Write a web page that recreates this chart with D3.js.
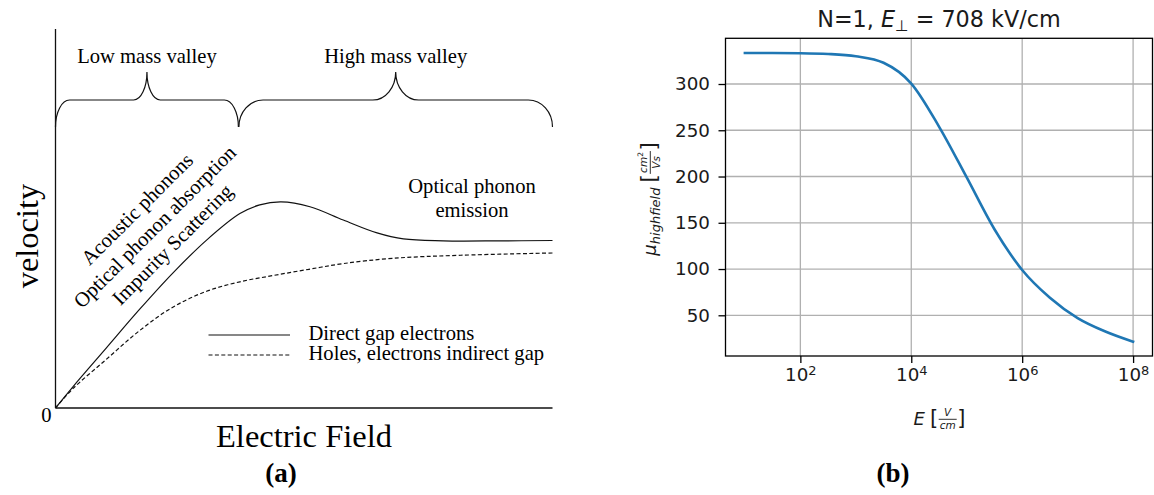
<!DOCTYPE html>
<html>
<head>
<meta charset="utf-8">
<script src="https://cdn.jsdelivr.net/npm/d3@7"></script>
<style>
  body { margin: 0; background: #fff; }
  svg { display: block; }
</style>
</head>
<body>
<svg id="chart" width="1154" height="495"></svg>
<script>
// ---------- Panel (a): schematic drift velocity vs. electric field (arbitrary units) ----------
const fieldDirect      = [0, 0.35, 1.02, 1.69, 2.36, 3.04, 3.71, 4.11, 4.54, 5.12, 5.79, 6.47, 7.0, 7.8, 8.95, 10];
const velocityDirect   = [0, 0.56, 1.58, 2.60, 3.56, 4.43, 5.13, 5.36, 5.44, 5.31, 4.96, 4.62, 4.46, 4.41, 4.41, 4.42];
const fieldIndirect    = [0, 0.35, 1.02, 1.69, 2.36, 3.04, 3.71, 4.4, 5.1, 5.79, 6.79, 8.15, 10];
const velocityIndirect = [0, 0.51, 1.28, 2.04, 2.66, 3.08, 3.33, 3.50, 3.66, 3.81, 3.95, 4.03, 4.09];

const valleyNames = ["Low mass valley", "High mass valley"];
const valleyStart = [0, 3.69];
const valleyEnd   = [3.68, 10];

const lowFieldMechanisms = ["Acoustic phonons", "Optical phonon absorption", "Impurity Scattering"];
const highFieldMechanism = ["Optical phonon", "emission"];
const legendNames = ["Direct gap electrons", "Holes, electrons indirect gap"];

// ---------- Panel (b): high-field mobility vs. field ----------
const fieldB   = [10, 31.6, 100, 316, 1000, 3162, 10000, 31623, 100000, 316228, 1000000, 3162278, 10000000, 31622777, 100000000];
const mobility = [333.5, 333.5, 333.3, 332.5, 330, 323, 300.5, 254, 199, 143, 99, 69, 47, 32.5, 21.5];
const yTicksB  = [50, 100, 150, 200, 250, 300];
const xTicksB  = [1e2, 1e4, 1e6, 1e8];
const titleB   = { pre: "N=1, ", sym: "E", sub: "⊥", post: " = 708 kV/cm" };

const svg = d3.select("#chart");
const serif = "'Liberation Serif', 'Times New Roman', serif";
const sans = "'DejaVu Sans', sans-serif";
const ink = "#1a1a1a";

// ================= Panel (a) =================
const xA = d3.scaleLinear().domain([0, 10]).range([55.5, 552.5]);
const yA = d3.scaleLinear().domain([0, 10]).range([408, 29]);
const gA = svg.append("g");

// axes
gA.append("line")
  .attr("x1", xA(0)).attr("x2", xA(0)).attr("y1", yA(0)).attr("y2", yA(10))
  .attr("stroke", "#111").attr("stroke-width", 1.3);
gA.append("line")
  .attr("x1", xA(0)).attr("x2", xA(10)).attr("y1", yA(0)).attr("y2", yA(0))
  .attr("stroke", "#111").attr("stroke-width", 1.3);

gA.append("text").attr("x", 46.5).attr("y", 421.5)
  .attr("text-anchor", "middle").attr("font-family", serif).attr("font-size", 20.6)
  .text("0");

gA.append("text").attr("x", 304).attr("y", 447)
  .attr("text-anchor", "middle").attr("font-family", serif).attr("font-size", 32.5)
  .text("Electric Field");

gA.append("text")
  .attr("transform", "translate(37.5,236) rotate(-90)")
  .attr("text-anchor", "middle").attr("font-family", serif).attr("font-size", 32.5)
  .text("velocity");

// curves
const lineA = d3.line().x(d => xA(d[0])).y(d => yA(d[1])).curve(d3.curveCatmullRom.alpha(0.5));
gA.append("path")
  .datum(d3.zip(fieldDirect, velocityDirect))
  .attr("d", lineA).attr("fill", "none").attr("stroke", "#111").attr("stroke-width", 1.2);
gA.append("path")
  .datum(d3.zip(fieldIndirect, velocityIndirect))
  .attr("d", lineA).attr("fill", "none").attr("stroke", "#111").attr("stroke-width", 1.2)
  .attr("stroke-dasharray", "4,2.4");

// curly braces marking the valleys
function bracePath(x0, x1, yEnd, yBar, yTip) {
  const span = x1 - x0, r = span * 0.077, rt = span * 0.073, tip = (x0 + x1) / 2;
  const k = 0.552, hEnd = yEnd - yBar, hTip = yBar - yTip;
  return `M${x0},${yEnd}` +
    `C${x0},${yEnd - k * hEnd} ${x0 + r * (1 - k)},${yBar} ${x0 + r},${yBar}` +
    `L${tip - rt},${yBar}` +
    `C${tip - rt * (1 - k)},${yBar} ${tip},${yTip + k * hTip} ${tip},${yTip}` +
    `C${tip},${yTip + k * hTip} ${tip + rt * (1 - k)},${yBar} ${tip + rt},${yBar}` +
    `L${x1 - r},${yBar}` +
    `C${x1 - r * (1 - k)},${yBar} ${x1},${yEnd - k * hEnd} ${x1},${yEnd}`;
}
valleyNames.forEach((name, i) => {
  const x0 = xA(valleyStart[i]), x1 = xA(valleyEnd[i]);
  gA.append("path").attr("d", bracePath(x0, x1, 127, 100, 72))
    .attr("fill", "none").attr("stroke", "#111").attr("stroke-width", 1.2);
  gA.append("text").attr("x", (x0 + x1) / 2).attr("y", 63)
    .attr("text-anchor", "middle").attr("font-family", serif).attr("font-size", 20.6)
    .text(name);
});

// scattering mechanism annotations
const mech = gA.append("g").attr("transform", "translate(156,228) rotate(-45)");
lowFieldMechanisms.forEach((t, i) => {
  mech.append("text").attr("x", 0).attr("y", (i - 1) * 25).attr("dy", "0.25em")
    .attr("text-anchor", "middle").attr("font-family", serif).attr("font-size", 20.6)
    .text(t);
});
highFieldMechanism.forEach((t, i) => {
  gA.append("text").attr("x", 472).attr("y", 193.3 + i * 23.4)
    .attr("text-anchor", "middle").attr("font-family", serif).attr("font-size", 20.6)
    .text(t);
});

// legend
legendNames.forEach((t, i) => {
  const y = 335 + i * 20;
  gA.append("line").attr("x1", 208.5).attr("x2", 290).attr("y1", y).attr("y2", y)
    .attr("stroke", "#111").attr("stroke-width", 1.2)
    .attr("stroke-dasharray", i === 1 ? "4,2.4" : null);
  gA.append("text").attr("x", 308.5).attr("y", y + 5.2)
    .attr("font-family", serif).attr("font-size", 20.6).text(t);
});

svg.append("text").attr("x", 281).attr("y", 482)
  .attr("text-anchor", "middle").attr("font-family", serif).attr("font-size", 27)
  .attr("font-weight", "bold").text("(a)");

// ================= Panel (b) =================
const xB = d3.scaleLog().domain([Math.pow(10, 0.65), Math.pow(10, 8.35)]).range([725.5, 1152.5]);
const yB = d3.scaleLinear().domain([6.0, 349.4]).range([356, 38.3]);
const gB = svg.append("g");

// grid
gB.append("g").selectAll("line").data(xTicksB).join("line")
  .attr("x1", d => xB(d)).attr("x2", d => xB(d)).attr("y1", yB.range()[0]).attr("y2", yB.range()[1])
  .attr("stroke", "#b0b0b0").attr("stroke-width", 1.3);
gB.append("g").selectAll("line").data(yTicksB).join("line")
  .attr("y1", d => yB(d)).attr("y2", d => yB(d)).attr("x1", xB.range()[0]).attr("x2", xB.range()[1])
  .attr("stroke", "#b0b0b0").attr("stroke-width", 1.3);

// mobility curve
const lineB = d3.line().x((d, i) => xB(fieldB[i])).y(d => yB(d)).curve(d3.curveMonotoneX);
gB.append("path").datum(mobility).attr("d", lineB)
  .attr("fill", "none").attr("stroke", "#1f77b4").attr("stroke-width", 2.6)
  .attr("stroke-linecap", "square");

// frame
gB.append("rect")
  .attr("x", xB.range()[0]).attr("y", yB.range()[1])
  .attr("width", xB.range()[1] - xB.range()[0]).attr("height", yB.range()[0] - yB.range()[1])
  .attr("fill", "none").attr("stroke", "#000").attr("stroke-width", 1.3);

// y axis
const yAxisB = gB.append("g").attr("transform", `translate(${xB.range()[0]},0)`)
  .call(d3.axisLeft(yB).tickValues(yTicksB).tickSize(7).tickPadding(8.5).tickFormat(d3.format("d")));
yAxisB.select(".domain").remove();
yAxisB.selectAll(".tick line").attr("stroke", "#000").attr("stroke-width", 1.3);
yAxisB.selectAll(".tick text").attr("font-family", sans).attr("font-size", 18.3).attr("fill", ink);

// x axis with 10^n labels
const xAxisB = gB.append("g").attr("transform", `translate(0,${yB.range()[0]})`)
  .call(d3.axisBottom(xB).tickValues(xTicksB).tickSize(7).tickPadding(5).tickFormat(() => ""));
xAxisB.select(".domain").remove();
xAxisB.selectAll(".tick line").attr("stroke", "#000").attr("stroke-width", 1.3);
xAxisB.selectAll(".tick text").each(function (d) {
  const t = d3.select(this).attr("font-family", sans).attr("font-size", 18.3).attr("fill", ink);
  t.append("tspan").text("10");
  t.append("tspan").attr("dy", "-0.45em").attr("font-size", 13).text(Math.round(Math.log10(d)));
});

// title
const title = gB.append("text").attr("x", (xB.range()[0] + xB.range()[1]) / 2).attr("y", 26.7)
  .attr("text-anchor", "middle").attr("font-family", sans).attr("font-size", 22.3).attr("fill", ink);
title.append("tspan").text(titleB.pre);
title.append("tspan").attr("font-style", "italic").text(titleB.sym);
title.append("tspan").attr("font-size", 15.5).attr("dy", 4).text(titleB.sub);
title.append("tspan").attr("dy", -4).text(titleB.post);

// math-style label laid out left to right, with an optional stacked fraction;
// the row is centred on the group origin
function mathLabel(parent, parts) {
  const row = parent.append("g");
  const span = (x, y, str, size, italic) => {
    const s = row.append("text").attr("x", x).attr("y", y)
      .attr("font-family", sans).attr("fill", ink)
      .attr("font-size", size).attr("font-style", italic ? "italic" : "normal").text(str);
    return { node: s, w: s.node().getComputedTextLength() };
  };
  let cx = 0;
  parts.forEach(p => {
    if (p.gap) { cx += p.gap; return; }
    if (p.frac) {
      const lineY = -5.7;
      let nw = 0;
      const nums = p.frac.num.map(q => {
        const s = span(0, q.sup ? lineY - 7.5 : lineY - 3.2, q.t, q.sup ? p.size * 0.72 : p.size, !q.sup);
        nw += s.w; return s;
      });
      const den = span(0, lineY + 9.2, p.frac.den, p.size, true);
      const w = Math.max(nw, den.w) + 3;
      let nx = cx + (w - nw) / 2;
      nums.forEach(s => { s.node.attr("x", nx); nx += s.w; });
      den.node.attr("x", cx + (w - den.w) / 2);
      row.append("line").attr("x1", cx + 0.5).attr("x2", cx + w - 0.5)
        .attr("y1", lineY).attr("y2", lineY).attr("stroke", ink).attr("stroke-width", 0.9);
      cx += w;
      return;
    }
    cx += span(cx, p.y || 0, p.t, p.size, p.italic).w;
  });
  row.attr("transform", `translate(${-cx / 2},0)`);
}

// x label: E [V/cm]
mathLabel(gB.append("g").attr("transform", "translate(939.5,425)"), [
  { t: "E", size: 18, italic: true },
  { gap: 5 },
  { t: "[", size: 21, y: -0.5 },
  { frac: { num: [{ t: "V" }], den: "cm" }, size: 10.5 },
  { t: "]", size: 21, y: -0.5 }
]);

// y label: mu_highfield [cm^2/Vs]
mathLabel(gB.append("g").attr("transform", "translate(656,199) rotate(-90)"), [
  { t: "μ", size: 18, italic: true },
  { t: "highfield", size: 13, italic: true, y: 4 },
  { gap: 5 },
  { t: "[", size: 21, y: -0.5 },
  { frac: { num: [{ t: "cm" }, { t: "2", sup: true }], den: "Vs" }, size: 10.5 },
  { t: "]", size: 21, y: -0.5 }
]);

svg.append("text").attr("x", 893).attr("y", 482)
  .attr("text-anchor", "middle").attr("font-family", serif).attr("font-size", 27)
  .attr("font-weight", "bold").text("(b)");
</script>
</body>
</html>
